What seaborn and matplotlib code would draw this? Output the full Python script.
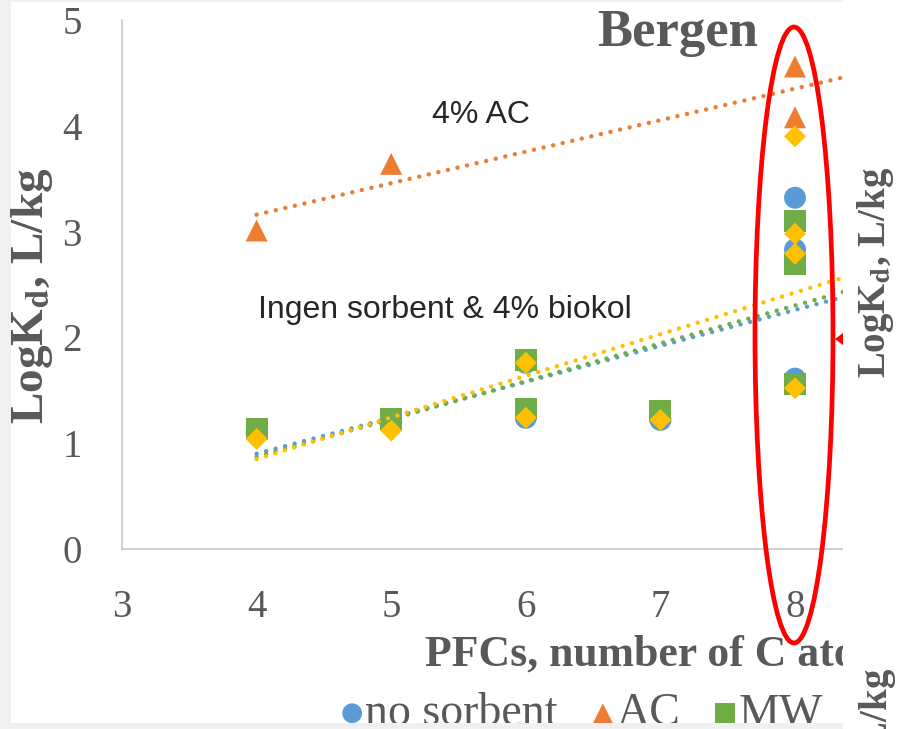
import matplotlib
matplotlib.use("Agg")
import matplotlib.pyplot as plt
from matplotlib.patches import Rectangle, Ellipse, Polygon
import seaborn as sns

# LogKd values per PFC, x = number of C atoms
carbon = [4, 5, 6, 6, 7, 8, 8, 8]
no_sorbent = [1.10, 1.20, 1.76, 1.24, 1.22, 3.32, 2.83, 1.61]
mw = [1.13, 1.23, 1.79, 1.32, 1.30, 3.10, 2.69, 1.56]
carbon_bio = [4, 5, 6, 6, 7, 8, 8, 8, 8]
biokol = [1.04, 1.12, 1.76, 1.24, 1.22, 3.90, 2.98, 2.79, 1.52]
carbon_ac = [4, 5, 8, 8]
ac = [3.01, 3.64, 4.56, 4.08]

# trend lines, read at x=4 and x=8.5
trend_x = [4, 8.5]
trend_none = [0.90, 2.43]
trend_ac = [3.16, 4.50]
trend_mw = [0.87, 2.48]
trend_bio = [0.85, 2.62]

BLUE = '#5B9BD5'
ORANGE = '#ED7D31'
GREEN = '#70AD47'
YELLOW = '#FFC000'
GREY = '#595959'

W, H = 901, 729


def fx(x):
    return x / W


def fy(y):
    return 1 - y / H


sns.set_style("white")
plt.rcParams['font.family'] = ['Liberation Serif', 'DejaVu Serif']
plt.rcParams['mathtext.fontset'] = 'stix'

fig = plt.figure(figsize=(W / 100, H / 100), dpi=100, facecolor='#f0f0f0')
# white picture area
fig.patches.append(Rectangle((fx(11), fy(723)), fx(832), 721 / H, transform=fig.transFigure,
                             facecolor='white', edgecolor='none', zorder=-1))

ax = fig.add_axes([fx(122), fy(549), fx(721), 529 / H])
ax.set_facecolor('none')

sns.scatterplot(x=carbon, y=no_sorbent, ax=ax, marker='o', s=250, color=BLUE,
                edgecolor='none', label='no sorbent', zorder=3)
sns.scatterplot(x=carbon_ac, y=ac, ax=ax, marker='^', s=250, color=ORANGE,
                edgecolor='none', label='AC', zorder=3)
sns.scatterplot(x=carbon, y=mw, ax=ax, marker='s', s=250, color=GREEN,
                edgecolor='none', label='MW', zorder=3)
sns.scatterplot(x=carbon_bio, y=biokol, ax=ax, marker='D', s=125, color=YELLOW,
                edgecolor='none', zorder=3)

dots = (0, (0.01, 2.2))
for ty, c in [(trend_none, BLUE), (trend_mw, GREEN), (trend_bio, YELLOW), (trend_ac, ORANGE)]:
    sns.lineplot(x=trend_x, y=ty, ax=ax, color=c, lw=3.2, linestyle=dots,
                 dash_capstyle='round', zorder=4)

handles, labels = ax.get_legend_handles_labels()
if ax.get_legend() is not None:
    ax.get_legend().remove()

ax.set_xlim(3, 3 + 721 / 134.6)
ax.set_ylim(0, 5)
ax.set_xticks([3, 4, 5, 6, 7, 8])
ax.set_yticks([0, 1, 2, 3, 4, 5])
ax.tick_params(length=0, pad=29, labelsize=28, labelcolor=GREY)
for s in ['top', 'right']:
    ax.spines[s].set_visible(False)
for s in ['left', 'bottom']:
    ax.spines[s].set_color('#c8c8c8')
    ax.spines[s].set_linewidth(1.2)

fig.text(fx(32), fy(296), r'LogK$_\mathbf{d}$, L/kg', rotation=90, ha='center', va='center',
         fontsize=34, fontweight='bold', color=GREY)
fig.text(fx(425), fy(655), 'PFCs, number of C atoms', ha='left', va='center',
         fontsize=31.5, fontweight='bold', color=GREY)
fig.text(fx(678), fy(33), 'Bergen', ha='center', va='center',
         fontsize=38, fontweight='bold', color=GREY)
fig.text(fx(432), fy(115), '4% AC', ha='left', va='center',
         family='Liberation Sans', fontsize=23, color='#262626')
fig.text(fx(258), fy(310), 'Ingen sorbent & 4% biokol', ha='left', va='center',
         family='Liberation Sans', fontsize=23, color='#262626')

leg = fig.legend(handles, labels, loc='center left', bbox_to_anchor=(fx(343), fy(714)),
                 ncol=3, frameon=False, fontsize=33, handlelength=0.4, handletextpad=0.09,
                 columnspacing=0.78, markerscale=0.9, borderpad=0, borderaxespad=0)
for t in leg.get_texts():
    t.set_color(GREY)

# grey border at the bottom and the neighbouring picture on the right
fig.patches.append(Rectangle((0, 0), fx(852), 6 / H, transform=fig.transFigure,
                             facecolor='#f0f0f0', edgecolor='none', zorder=6))
fig.patches.append(Rectangle((fx(843), 0), 1 - fx(843), 1, transform=fig.transFigure,
                             facecolor='white', edgecolor='none', zorder=6))
fig.text(fx(876), fy(272), r'LogK$_\mathbf{d}$, L/kg', rotation=90, ha='center', va='center',
         fontsize=28, fontweight='bold', color=GREY, zorder=7)
fig.text(fx(877), fy(668), r'LogK$_\mathbf{d}$, L/kg', rotation=90, ha='center', va='top',
         fontsize=28, fontweight='bold', color=GREY, zorder=7)

# red highlight
fig.patches.append(Ellipse((fx(794), fy(335)), 78 / W, 616 / H, transform=fig.transFigure,
                           fill=False, edgecolor='red', lw=3.4, zorder=8))
fig.patches.append(Polygon([(fx(835), fy(339)), (fx(843), fy(333)), (fx(843), fy(345))],
                           closed=True, transform=fig.transFigure, facecolor='red',
                           edgecolor='none', zorder=8))

fig.savefig('out.png', dpi=100, facecolor=fig.get_facecolor())
